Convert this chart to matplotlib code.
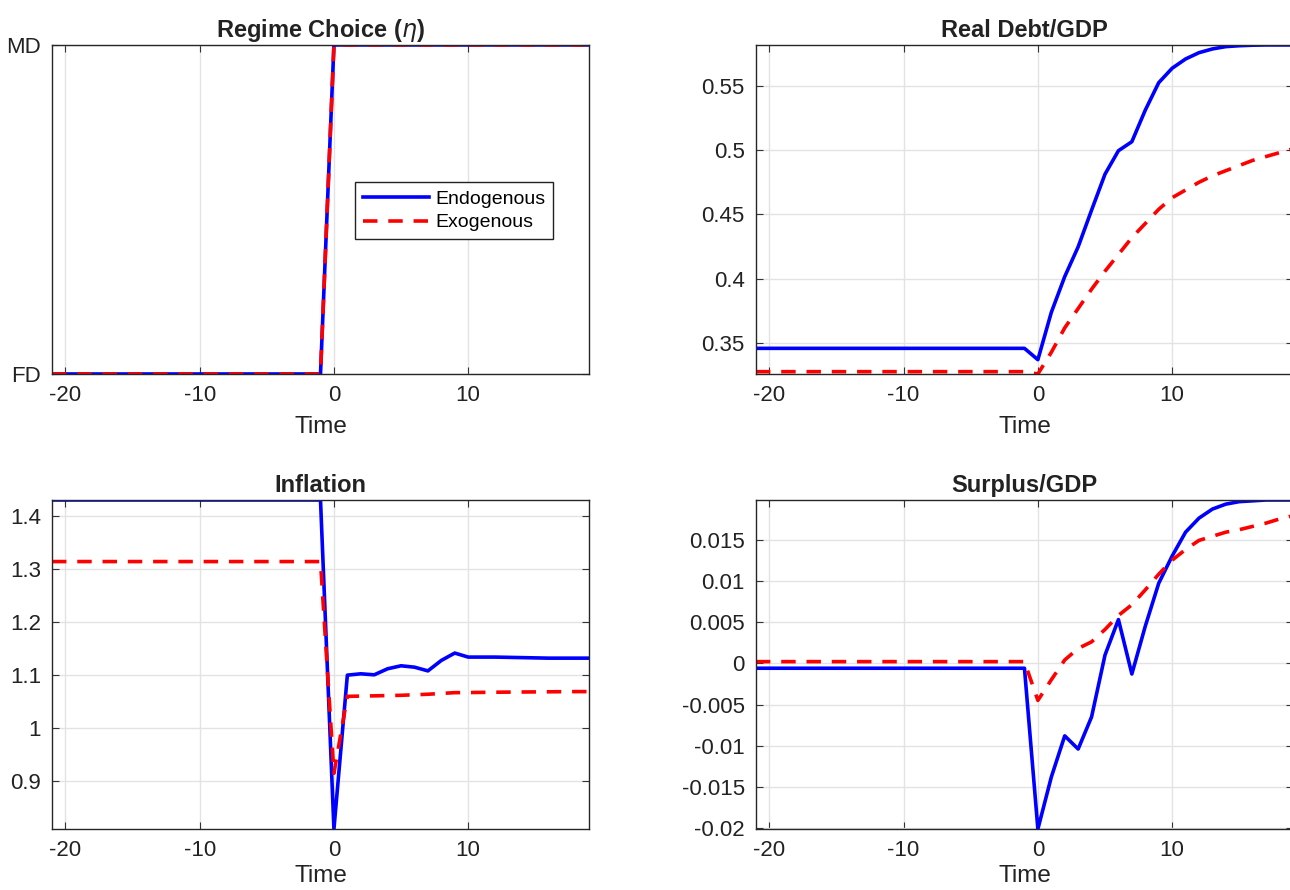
import numpy as np
import matplotlib
matplotlib.use("Agg")
import matplotlib.pyplot as plt

plt.rcParams['font.family'] = ['Liberation Sans', 'DejaVu Sans']
plt.rcParams['mathtext.fontset'] = 'dejavusans'
plt.rcParams['axes.unicode_minus'] = False

# time axis
time = list(range(-21, 20))

# regime choice (0 = FD, 1 = MD)
regime_endo = [0] * 21 + [1] * 20
regime_exo = [0] * 21 + [1] * 20

# real debt / GDP  (21 values before the switch, 20 after)
debt_endo = [0.3461] * 21 + [0.3373, 0.374, 0.4018, 0.4249, 0.4534, 0.4813, 0.4995,
                             0.5065, 0.531, 0.5523, 0.5635, 0.5707, 0.5756, 0.5785,
                             0.5803, 0.581, 0.5814, 0.5816, 0.5816, 0.5816]
debt_exo = [0.328] * 21 + [0.3262, 0.343, 0.362, 0.377, 0.392, 0.406, 0.419, 0.432,
                           0.443, 0.454, 0.463, 0.469, 0.475, 0.480, 0.484, 0.488,
                           0.492, 0.495, 0.498, 0.501]

# inflation
infl_endo = [1.43] * 21 + [0.81, 1.10, 1.1025, 1.1006, 1.112, 1.1176, 1.115, 1.108,
                           1.1277, 1.1416, 1.134, 1.134, 1.134, 1.1335, 1.133, 1.1325,
                           1.132, 1.132, 1.132, 1.132]
infl_exo = [1.314] * 21 + [0.915, 1.06, 1.0605, 1.061, 1.0615, 1.062, 1.063, 1.064,
                           1.0655, 1.067, 1.0672, 1.0675, 1.0678, 1.068, 1.0682,
                           1.0684, 1.0686, 1.0688, 1.069, 1.069]

# surplus / GDP
surp_endo = [-0.0006] * 21 + [-0.0201, -0.0138, -0.0088, -0.0104, -0.0065, 0.001,
                              0.0053, -0.0013, 0.0045, 0.0097, 0.013, 0.0159, 0.0176,
                              0.0187, 0.0193, 0.0196, 0.0197, 0.0198, 0.0198, 0.0198]
surp_exo = [0.0002] * 21 + [-0.0045, -0.002, 0.0004, 0.0018, 0.0026, 0.0041, 0.0058,
                            0.0071, 0.0089, 0.0108, 0.0125, 0.0138, 0.0149, 0.0154,
                            0.0159, 0.0162, 0.0166, 0.017, 0.0175, 0.0179]

fig = plt.figure(figsize=(12.9, 8.9), dpi=100)

W, H = 0.4163, 0.3697
positions = [(0.0403, 0.5798), (0.586, 0.5798), (0.0403, 0.0685), (0.586, 0.0685)]
titles = [r'Regime Choice ($\eta$)', 'Real Debt/GDP', 'Inflation', 'Surplus/GDP']
series = [(regime_endo, regime_exo), (debt_endo, debt_exo),
          (infl_endo, infl_exo), (surp_endo, surp_exo)]

axes = []
for i, (pos, title, (endo, exo)) in enumerate(zip(positions, titles, series)):
    ax = fig.add_axes([pos[0], pos[1], W, H])
    ax.plot(time, endo, color='#0000ff', lw=2.6, label='Endogenous')
    ax.plot(time, exo, color='#ff0000', lw=2.6, ls=(0, (4, 3)), label='Exogenous')
    ax.set_xlim(-21, 19)
    lo = min(min(endo), min(exo))
    hi = max(max(endo), max(exo))
    ax.set_ylim(lo, hi)
    ax.set_xticks([-20, -10, 0, 10])
    # bottom row sits close to the figure edge
    pad = 7 if i < 2 else 3
    ax.set_xlabel('Time', fontsize=17.5, labelpad=pad, color='#222222')
    ax.set_title(title, fontsize=17, fontweight='bold', color='#222222', pad=6)
    ax.grid(True, color='#e3e3e3', lw=1.0)
    ax.set_axisbelow(True)
    ax.tick_params(direction='in', top=True, right=True, labelsize=16,
                   length=5, color='#333333', labelcolor='#222222', pad=8)
    for s in ax.spines.values():
        s.set_color('#262626')
        s.set_linewidth(1.0)
    axes.append(ax)

axes[0].set_yticks([0, 1])
axes[0].set_yticklabels(['FD', 'MD'])
axes[0].set_ylim(0, 1)
axes[0].legend(loc='upper left', bbox_to_anchor=(0.565, 0.582), fontsize=14,
               fancybox=False, edgecolor='#222222', framealpha=1,
               handlelength=3.4, borderpad=0.4, labelspacing=0.3,
               handletextpad=0.3, borderaxespad=0)

axes[1].set_yticks([0.35, 0.4, 0.45, 0.5, 0.55])
axes[1].set_yticklabels(['0.35', '0.4', '0.45', '0.5', '0.55'])
axes[2].set_yticks([0.9, 1.0, 1.1, 1.2, 1.3, 1.4])
axes[2].set_yticklabels(['0.9', '1', '1.1', '1.2', '1.3', '1.4'])
axes[3].set_yticks([-0.02, -0.015, -0.01, -0.005, 0, 0.005, 0.01, 0.015])
axes[3].set_yticklabels(['-0.02', '-0.015', '-0.01', '-0.005', '0', '0.005', '0.01', '0.015'])

fig.savefig('out.png', dpi=100)
